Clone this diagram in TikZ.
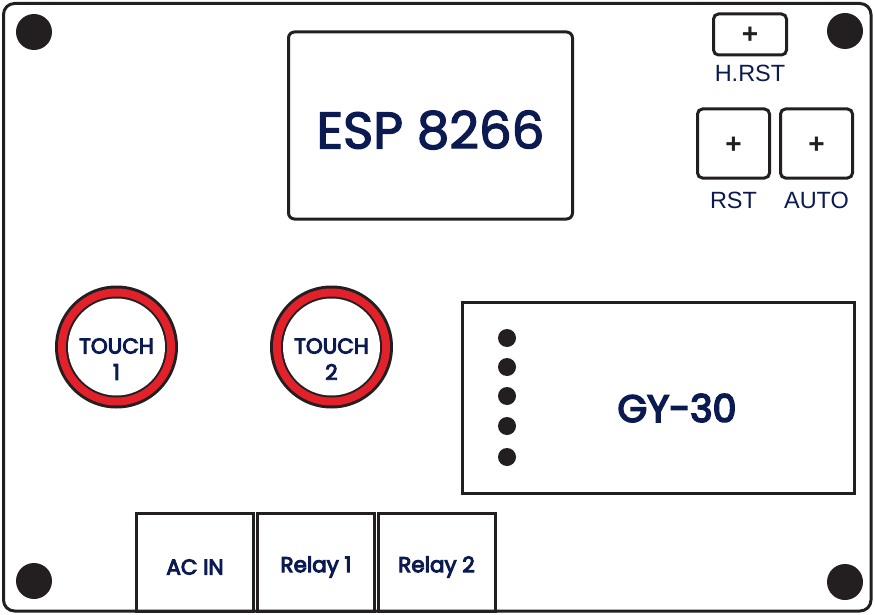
\documentclass[tikz,border=0pt]{standalone}
\usepackage{fontspec}
\setmainfont{Poppins}
\newfontfamily\lab{Liberation Sans}
\newfontfamily\semib[FakeBold=4.5]{Poppins}
\newfontfamily\medium[FakeBold=2.5]{Poppins}
\definecolor{navy}{HTML}{0B1A50}
\definecolor{ink}{HTML}{231F20}
\definecolor{ringred}{HTML}{E3212B}
\begin{document}
\begin{tikzpicture}[x=1pt,y=-1pt,
  edge/.style={draw=ink,line width=3pt},
  hole/.style={circle,fill=ink,minimum size=36pt,inner sep=0pt},
  pin/.style={circle,fill=ink,minimum size=18pt,inner sep=0pt},
  btn/.style={edge,rounded corners=5pt,minimum width=#1,inner sep=0pt},
  plus/.style={font=\lab\bfseries\fontsize{28}{28}\selectfont,text=ink},
  btnlabel/.style={font=\lab\fontsize{23.5}{23.5}\selectfont,text=navy},
  term/.style={edge,minimum width=117pt,minimum height=98pt,inner sep=0pt},
  termlabel/.style={font=\semib\fontsize{21.5}{21.5}\selectfont,text=navy},
  touchlabel/.style={font=\semib\fontsize{21.5}{21.5}\selectfont,text=navy}]
\useasboundingbox (0,0) rectangle (875,615);
\fill[white] (0,0) rectangle (875,615);
% board
\draw[edge,rounded corners=11pt] (3.5,3.5) rectangle (871,611);
% holes
\node[hole] (h1) at (34,32) {};
\node[hole] (h2) at (845,31) {};
\node[hole] (h3) at (34,581) {};
\node[hole] (h4) at (845,582) {};
% ESP
\node[edge,rounded corners=6pt,minimum width=284pt,minimum height=187pt,inner sep=0pt] (esp) at (430.5,125.5) {};
\node[text=navy,font=\medium\fontsize{51.5}{51.5}\selectfont] (espl) at (430.5,130) {ESP 8266};
% buttons
\node[btn=73pt,minimum height=41pt] (hrst) at (750,34.5) {};
\node[plus] (hrstp) at (750,35) {+};
\node[btnlabel] (hrstl) at (750,73) {H.RST};
\node[btn=72pt,minimum height=69pt] (rst) at (733.5,143.5) {};
\node[plus] (rstp) at (733.5,145) {+};
\node[btnlabel] (rstl) at (733.5,200) {RST};
\node[btn=72pt,minimum height=69pt] (auto) at (816.5,143.5) {};
\node[plus] (autop) at (816.5,145) {+};
\node[btnlabel] (autol) at (816.5,200) {AUTO};
% touch pads
\foreach \n/\x/\t in {t1/116.5/1,t2/331.5/2}{
  \fill[ink] (\x,347) circle (61.5);
  \fill[ringred] (\x,347) circle (58.5);
  \fill[ink] (\x,347) circle (50.5);
  \node[circle,fill=white,minimum size=97pt,inner sep=0pt] (\n) at (\x,347) {};
  \node[touchlabel] (\n a) at (\x,346) {TOUCH};
  \node[touchlabel] (\n b) at (\x,372) {\t};
}
% GY-30
\node[edge,minimum width=392pt,minimum height=191pt,inner sep=0pt] (gy) at (658,397.5) {};
\node[text=navy,font=\semib\fontsize{38}{38}\selectfont] (gyl) at (677,408) {GY-30};
\foreach \i/\y in {1/338,2/367,3/396,4/426,5/457}{
  \node[pin] (p\i) at (507,\y) {};
}
% terminals
\node[term] (ac) at (195,562) {};
\node[term] (r1) at (316,562) {};
\node[term] (r2) at (436.5,562) {};
\node[termlabel] (acl) at (195,567) {AC IN};
\node[termlabel] (r1l) at (316,567) {Relay 1};
\node[termlabel] (r2l) at (436.5,567) {Relay 2};
\end{tikzpicture}
\end{document}
